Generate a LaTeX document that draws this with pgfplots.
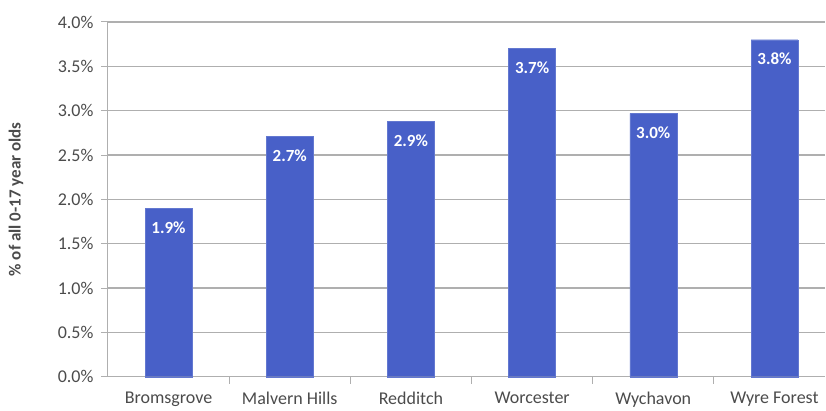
\documentclass[border=0pt]{standalone}
\usepackage{pgfplots}
\pgfplotsset{compat=1.18}
\usepackage{fontspec}
\setmainfont{Carlito}
\definecolor{barblue}{RGB}{72,96,200}
\definecolor{txt}{RGB}{75,75,75}
\definecolor{gridc}{RGB}{175,175,175}
\begin{document}
\begin{tikzpicture}
\begin{axis}[
  scale only axis, width=718pt, height=355pt,
  xmin=-0.5, xmax=5.42, ymin=0, ymax=4,
  axis x line*=bottom, axis y line*=left,
  axis line style={gridc, line width=1pt, -},
  xtick={0,1,2,3,4,5},
  xticklabels={Bromsgrove,Malvern Hills,Redditch,Worcester,Wychavon,Wyre Forest},
  major x tick style={draw=none},
  minor xtick={0.5,1.5,2.5,3.5,4.5},
  ytick={0,0.5,1,1.5,2,2.5,3,3.5,4},
  yticklabels={0.0\%,0.5\%,1.0\%,1.5\%,2.0\%,2.5\%,3.0\%,3.5\%,4.0\%},
  tick align=outside,
  major tick length=7pt, minor tick length=7pt,
  tick style={gridc, line width=1pt},
  ymajorgrids, grid style={gridc, line width=1.2pt},
  ticklabel style={text=txt, font=\fontsize{18}{21}\selectfont},
  xticklabel style={yshift=-5pt},
  yticklabel style={xshift=-4pt},
  every axis y label/.style={at={([xshift=-92pt]axis description cs:0,0.5)}, rotate=90, anchor=center},
  ylabel={\bfseries\fontsize{17}{20}\selectfont\color{txt}\% of all 0-17 year olds},
  ybar, bar width=47pt,
  nodes near coords={\pgfmathprintnumber[fixed,fixed zerofill,precision=1,assume math mode=true]{\pgfplotspointmeta}\%},
  every node near coord/.append style={anchor=north, yshift=-10pt, text=white, font=\bfseries\fontsize{17}{20}\selectfont},
  clip=false,
]
\addplot[fill=barblue, draw=barblue!85!white] coordinates {
  (0,1.90) (1,2.71) (2,2.88) (3,3.70) (4,2.97) (5,3.80)
};
\coordinate (bl) at (rel axis cs:0,0);
\coordinate (tr) at (rel axis cs:1,1);
\end{axis}
\path ([xshift=-108pt,yshift=-32pt]bl) rectangle ([yshift=22pt]tr);
\end{tikzpicture}
\end{document}
